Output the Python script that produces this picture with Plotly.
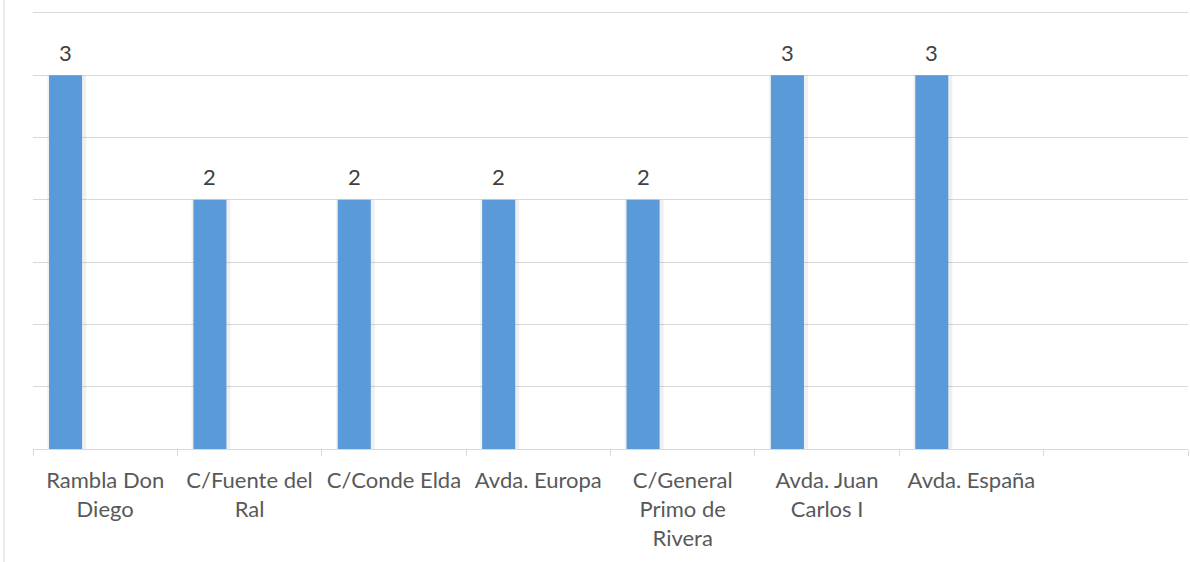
import plotly.graph_objects as go

categories = ["Rambla Don Diego", "C/Fuente del Ral", "C/Conde Elda", "Avda. Europa",
              "C/General Primo de Rivera", "Avda. Juan Carlos I", "Avda. España", ""]
values = [3, 2, 2, 2, 2, 3, 3, None]
tick_labels = ["Rambla Don<br>Diego", "C/Fuente del<br>Ral", "C/Conde Elda", "Avda. Europa",
               "C/General<br>Primo de<br>Rivera", "Avda. Juan<br>Carlos I", "Avda. España", ""]

W, H = 1190, 562
ML, MR, MT, MB = 33, 2, 8, 113
slot_px = (W - ML - MR) / len(categories)
bar_w = 0.229
bar_off = -0.389
FONT = "Lato"

fig = go.Figure()
# soft shadow
fig.add_trace(go.Bar(
    x=categories, y=values, width=bar_w + 0.04, offset=bar_off - 0.012,
    marker=dict(color="rgba(0,0,0,0.06)", line=dict(width=0)),
    hoverinfo="skip", showlegend=False))
fig.add_trace(go.Bar(
    x=categories, y=values, width=bar_w, offset=bar_off,
    marker=dict(color="#5a9ad9", line=dict(width=0)),
    showlegend=False))

annotations = []
for c, v in zip(categories, values):
    if v is None:
        continue
    annotations.append(dict(
        x=c, y=v, xref="x", yref="y", text=str(v), showarrow=False,
        xshift=(bar_off + bar_w / 2) * slot_px, yshift=23,
        font=dict(family=FONT, size=22, color="#404040")))

fig.update_layout(
    width=W, height=H,
    margin=dict(l=ML, r=MR, t=MT, b=MB, autoexpand=False),
    paper_bgcolor="white", plot_bgcolor="white",
    barmode="overlay",
    annotations=annotations,
    font=dict(family=FONT, size=22, color="#595959"),
    xaxis=dict(
        type="category", categoryorder="array", categoryarray=categories,
        tickmode="array", tickvals=categories, ticktext=tick_labels,
        tickson="boundaries", ticks="outside", ticklen=6, tickcolor="#d9d9d9",
        ticklabelstandoff=12,
        showline=True, linecolor="#d9d9d9", linewidth=1,
        showgrid=False, tickangle=0,
        tickfont=dict(family=FONT, size=22, color="#595959"),
        range=[-0.5, len(categories) - 0.5],
    ),
    yaxis=dict(
        range=[0, 3.54], tickmode="array", tickvals=[0.5, 1, 1.5, 2, 2.5, 3, 3.5],
        showticklabels=False,
        showgrid=True, gridcolor="#d9d9d9", gridwidth=1,
        zeroline=False, showline=False, ticks="",
    ),
    shapes=[dict(type="line", xref="paper", yref="paper",
                 x0=(4 - ML) / (W - ML - MR), x1=(4 - ML) / (W - ML - MR),
                 y0=-MB / (H - MT - MB) - 0.01, y1=1 + MT / (H - MT - MB) + 0.01,
                 line=dict(color="#d9d9d9", width=1))],
)

fig.write_html("out.html", config={"displayModeBar": False},
               post_script="document.body.style.margin='0';document.body.style.overflow='hidden';")
